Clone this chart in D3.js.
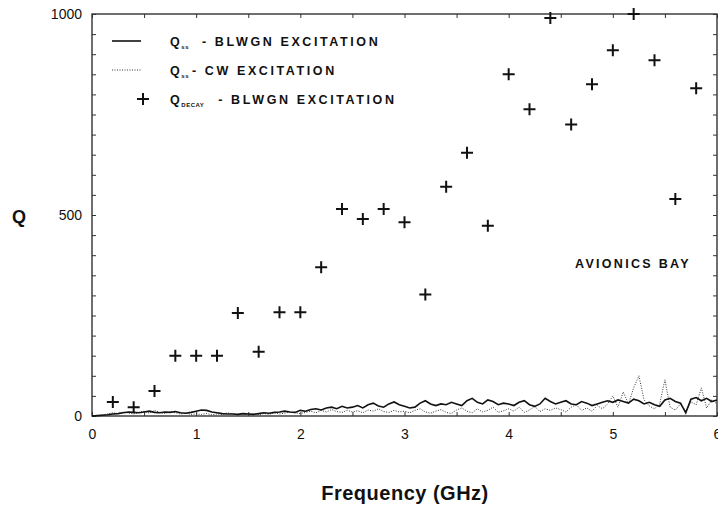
<!DOCTYPE html>
<html>
<head>
<meta charset="utf-8">
<script src="https://cdn.jsdelivr.net/npm/d3@7"></script>
<style>
body { margin: 0; background: #fff; }
text { font-family: "Liberation Sans", Arial, sans-serif; fill: #111; }
</style>
</head>
<body>
<div class="chart"></div>
<script>
// datos
var decayFreq = [0.2,0.4,0.6,0.8,1.0,1.2,1.4,1.6,1.8,2.0,2.2,2.4,2.6,2.8,3.0,3.2,3.4,3.6,3.8,4.0,4.2,4.4,4.6,4.8,5.0,5.2,5.4,5.6,5.8];
var decayQ = [35,22,62,150,150,150,256,160,258,258,370,515,490,515,482,302,570,655,473,850,763,990,725,825,910,1000,885,540,815];

var lineStep = 0.05;
var qssBlwgn = [0,1,2,3,5,6,8,10,9,8,
  10,12,9,8,10,9,11,8,7,9,
  12,15,14,10,8,6,5,5,4,6,
  5,4,6,8,7,9,10,12,10,9,
  14,12,16,18,15,20,22,18,24,20,
  22,26,20,28,32,25,22,30,35,28,
  24,20,22,32,38,30,26,30,28,34,
  30,26,38,44,34,30,40,36,28,32,
  30,26,34,38,28,24,30,44,36,30,
  34,38,30,28,36,32,26,30,34,38,
  34,40,36,32,42,38,30,34,28,24,
  40,44,36,32,8,42,46,38,44,36,
  40];
var qssCw = [0,1,3,5,8,6,10,7,5,9,
  12,7,14,9,6,10,8,5,7,4,
  5,4,6,3,5,4,8,5,3,6,
  4,5,3,6,4,8,5,7,10,8,
  6,9,12,8,14,10,16,11,9,14,
  10,13,8,15,12,18,11,9,14,10,
  12,8,14,18,10,7,12,16,9,6,
  15,20,12,8,18,10,14,22,9,13,
  18,12,22,9,15,24,11,18,14,20,
  16,10,22,28,14,20,12,26,18,30,
  50,22,60,30,70,100,40,25,18,30,
  90,22,15,30,12,35,28,70,20,40,
  30];

var xTicks = [0,1,2,3,4,5,6];
var yTicks = [0,500,1000];
var legendLabels = [
  {main: "Q", sub: "ss", rest: "- BLWGN EXCITATION", gap: 13},
  {main: "Q", sub: "ss", rest: "- CW EXCITATION", gap: 3},
  {main: "Q", sub: "DECAY", rest: "- BLWGN EXCITATION", gap: 14}
];

var w = 718, h = 508;
var mLeft = 92, mRight = 717, mTop = 14, mBottom = 416;

var svg = d3.select(".chart").append("svg")
  .attr("width", w).attr("height", h)
  .style("background", "#fff");

var x = d3.scaleLinear().domain([0, 6]).range([mLeft, mRight]);
var y = d3.scaleLinear().domain([0, 1000]).range([mBottom, mTop]);

// marco
svg.append("rect")
  .attr("x", mLeft).attr("y", mTop)
  .attr("width", mRight - mLeft).attr("height", mBottom - mTop)
  .attr("fill", "none").attr("stroke", "#222").attr("stroke-width", 1.3);

// ticks menores hacia adentro
var yMinor = d3.range(0, 1001, 50);
var xMinor = d3.range(0, 6.01, 0.5);
function noDomain(g) { g.select(".domain").remove(); }
svg.append("g").attr("transform", "translate(" + mLeft + ",0)")
  .call(d3.axisRight(y).tickValues(yMinor).tickSize(4).tickFormat(""))
  .call(noDomain);
svg.append("g").attr("transform", "translate(" + mRight + ",0)")
  .call(d3.axisLeft(y).tickValues(yMinor).tickSize(4).tickFormat(""))
  .call(noDomain);
svg.append("g").attr("transform", "translate(0," + mTop + ")")
  .call(d3.axisBottom(x).tickValues(xMinor).tickSize(4).tickFormat(""))
  .call(noDomain);
svg.append("g").attr("transform", "translate(0," + mBottom + ")")
  .call(d3.axisTop(x).tickValues(xMinor).tickSize(4).tickFormat(""))
  .call(noDomain);
svg.selectAll(".tick line").attr("stroke", "#333");

// etiquetas de ejes
svg.append("g").attr("transform", "translate(" + mLeft + ",0)")
  .call(d3.axisLeft(y).tickValues(yTicks).tickSize(0).tickPadding(10).tickFormat(d3.format("d")))
  .call(function(g) {
    noDomain(g);
    g.selectAll("text").style("font-size", "14px").style("font-family", "Liberation Sans, Arial, sans-serif").attr("fill", "#222");
  });
svg.append("g").attr("transform", "translate(0," + mBottom + ")")
  .call(d3.axisBottom(x).tickValues(xTicks).tickSize(0).tickPadding(13).tickFormat(d3.format("d")))
  .call(function(g) {
    noDomain(g);
    g.selectAll("text").style("font-size", "14px").style("font-family", "Liberation Sans, Arial, sans-serif").attr("fill", "#222");
  });

svg.append("text").attr("x", 405).attr("y", 500)
  .attr("text-anchor", "middle").style("font-size", "20px").style("font-weight", "bold")
  .style("letter-spacing", "0.5px")
  .text("Frequency (GHz)");
svg.append("text").attr("x", 19).attr("y", 223)
  .attr("text-anchor", "middle").style("font-size", "18px").style("font-weight", "bold")
  .text("Q");

// lineas
var lineGen = d3.line()
  .x(function(d, i) { return x(i * lineStep); })
  .y(function(d) { return y(d); });

svg.append("path").datum(qssCw)
  .attr("d", lineGen).attr("fill", "none")
  .attr("stroke", "#333").attr("stroke-width", 1).attr("stroke-dasharray", "1,1.5");
svg.append("path").datum(qssBlwgn)
  .attr("d", lineGen).attr("fill", "none")
  .attr("stroke", "#111").attr("stroke-width", 1.6);

// cruces
svg.append("g").selectAll("path")
  .data(decayFreq)
  .enter().append("path")
  .attr("d", function(d, i) {
    var cx = x(d), cy = y(decayQ[i]), s = 6;
    return "M" + (cx - s) + "," + cy + "H" + (cx + s) + "M" + cx + "," + (cy - s) + "V" + (cy + s);
  })
  .attr("stroke", "#111").attr("stroke-width", 2);

// leyenda
var legY = [41, 70, 99];
svg.append("line").attr("x1", 112).attr("x2", 141).attr("y1", legY[0]).attr("y2", legY[0])
  .attr("stroke", "#111").attr("stroke-width", 1.6);
svg.append("line").attr("x1", 112).attr("x2", 141).attr("y1", legY[1]).attr("y2", legY[1])
  .attr("stroke", "#333").attr("stroke-width", 1).attr("stroke-dasharray", "1,1.5");
svg.append("path")
  .attr("d", "M137," + legY[2] + "H149M143," + (legY[2] - 6) + "V" + (legY[2] + 6))
  .attr("stroke", "#111").attr("stroke-width", 2);

for (var a = 0; a < legendLabels.length; a++) {
  var t = svg.append("text").attr("x", 170).attr("y", legY[a] + 5)
    .style("font-size", "12.5px").style("font-weight", "bold").style("letter-spacing", "2.6px");
  t.append("tspan").text(legendLabels[a].main);
  t.append("tspan").attr("dy", 3).attr("dx", -1).style("font-size", "6px").style("letter-spacing", "0.5px").text(legendLabels[a].sub);
  t.append("tspan").attr("dy", -3).attr("dx", legendLabels[a].gap).text(legendLabels[a].rest);
}

svg.append("text").attr("x", 575).attr("y", 268)
  .style("font-size", "12.5px").style("font-weight", "bold").style("letter-spacing", "2.3px")
  .text("AVIONICS  BAY");
</script>
</body>
</html>
